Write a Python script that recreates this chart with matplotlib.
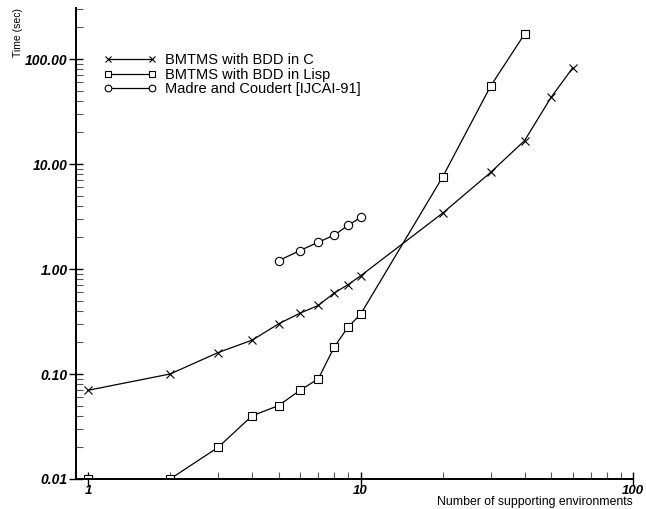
import matplotlib
matplotlib.use('Agg')
import matplotlib.pyplot as plt
from matplotlib.ticker import LogLocator, FixedLocator, NullFormatter, FuncFormatter

plt.rcParams['font.family'] = ['Liberation Sans', 'DejaVu Sans']

# BMTMS with BDD in C
c_x = [1, 2, 3, 4, 5, 6, 7, 8, 9, 10, 20, 30, 40, 50, 60]
c_y = [0.07, 0.10, 0.16, 0.21, 0.30, 0.38, 0.45, 0.59, 0.71, 0.86, 3.4, 8.3, 16.7, 43, 82]

# BMTMS with BDD in Lisp
lisp_x = [1, 2, 3, 4, 5, 6, 7, 8, 9, 10, 20, 30, 40]
lisp_y = [0.01, 0.01, 0.02, 0.04, 0.05, 0.07, 0.09, 0.18, 0.28, 0.37, 7.5, 55, 173]

# Madre and Coudert [IJCAI-91]
mc_x = [5, 6, 7, 8, 9, 10]
mc_y = [1.2, 1.5, 1.8, 2.1, 2.6, 3.1]

labels = ['BMTMS with BDD in C', 'BMTMS with BDD in Lisp', 'Madre and Coudert [IJCAI-91]']

fig = plt.figure(figsize=(6.46, 5.09), dpi=100)
ax = fig.add_axes([76 / 646, 1 - 479 / 509, (633 - 76) / 646, (479 - 8) / 509])

ax.plot(c_x, c_y, color='black', lw=0.9, marker='x', ms=6, mew=0.8, label=labels[0])
ax.plot(lisp_x, lisp_y, color='black', lw=0.9, marker='s', ms=6, mew=0.8,
        mfc='white', label=labels[1])
ax.plot(mc_x, mc_y, color='black', lw=0.9, marker='o', ms=6, mew=0.8,
        mfc='white', label=labels[2])

ax.set_xscale('log')
ax.set_yscale('log')
ax.set_xlim(0.903, 100)
ax.set_ylim(0.01, 306)

for s in ['top', 'right']:
    ax.spines[s].set_visible(False)
for s in ['left', 'bottom']:
    ax.spines[s].set_linewidth(1.4)

ax.xaxis.set_major_locator(FixedLocator([1, 10, 100]))
ax.yaxis.set_major_locator(FixedLocator([0.01, 0.1, 1, 10, 100]))
ax.xaxis.set_minor_locator(LogLocator(base=10, subs=range(2, 10)))
ax.yaxis.set_minor_locator(LogLocator(base=10, subs=range(2, 10)))
ax.xaxis.set_minor_formatter(NullFormatter())
ax.yaxis.set_minor_formatter(NullFormatter())
ax.xaxis.set_major_formatter(FuncFormatter(lambda v, p: '%d' % v))
ax.yaxis.set_major_formatter(FuncFormatter(lambda v, p: '%.2f' % v))

ax.tick_params(which='major', direction='inout', length=10, width=1.0, pad=1)
ax.tick_params(axis='x', which='major', pad=-1)
ax.tick_params(which='minor', direction='in', length=5, width=0.8, color='#555555')
for lab in ax.get_yticklabels():
    lab.set_fontsize(10)
for lab in ax.get_xticklabels():
    lab.set_fontsize(9.5)
for lab in ax.get_xticklabels() + ax.get_yticklabels():
    lab.set_fontweight('bold')
    lab.set_fontstyle('italic')

fig.text(633 / 646, 0.5 / 509, 'Number of supporting environments', fontsize=8.8,
         ha='right', va='bottom')
fig.text(18 / 646, 1 - 8 / 509, 'Time (sec)', rotation=90, fontsize=7.5,
         ha='center', va='top')

ax.legend(loc='upper left', bbox_to_anchor=(104 / 646, 1 - 53 / 509),
          bbox_transform=fig.transFigure, frameon=False, numpoints=2,
          fontsize=10.5, markerscale=0.8, handlelength=3.6, handletextpad=0.6,
          labelspacing=0.05, borderpad=0, borderaxespad=0)

fig.savefig('out.png', dpi=100)
